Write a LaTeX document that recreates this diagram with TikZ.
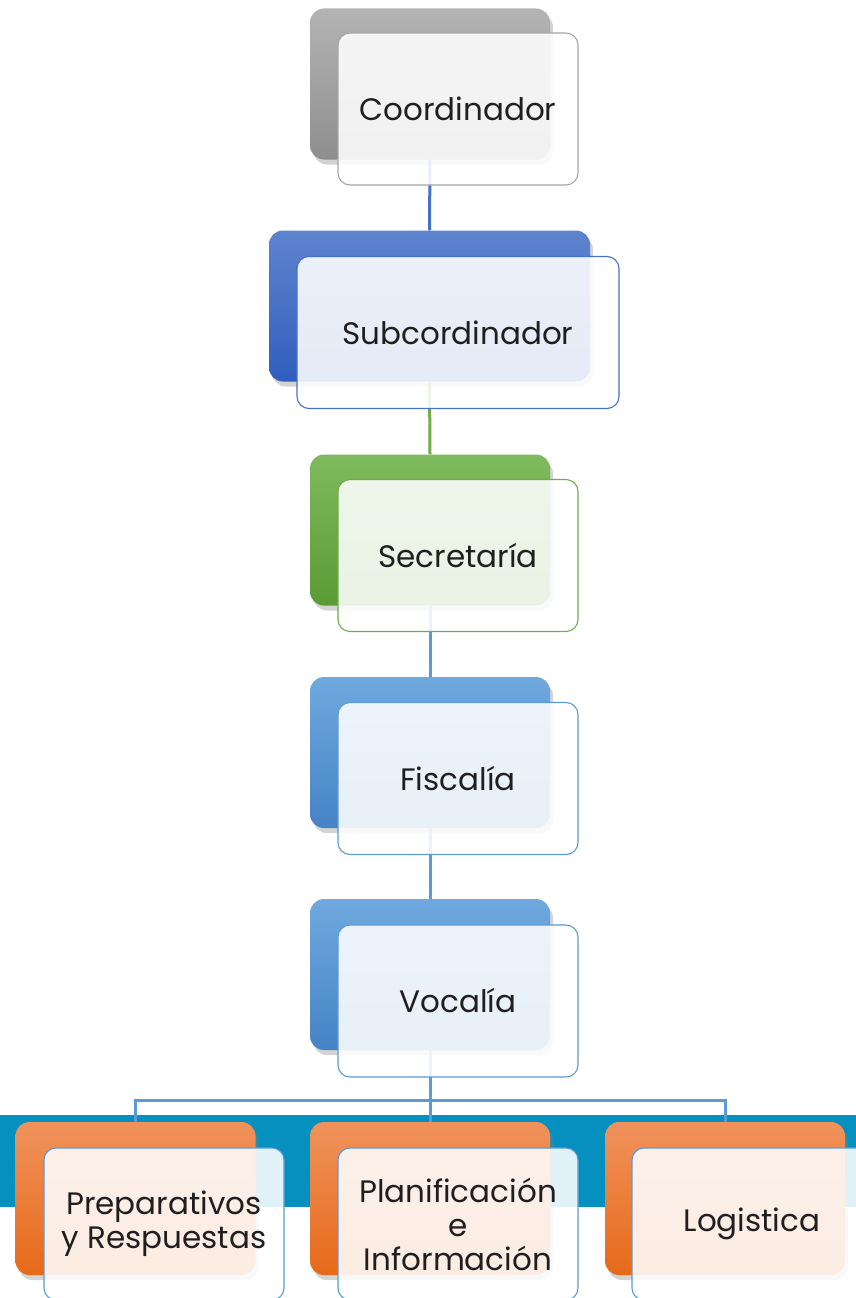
\documentclass[tikz,border=0pt]{standalone}
\usepackage{fontspec}
\setmainfont{Poppins}
\usetikzlibrary{shadows}
\definecolor{grisTop}{HTML}{B4B4B4}
\definecolor{grisBot}{HTML}{8E8E8E}
\definecolor{azulTop}{HTML}{5F84CE}
\definecolor{azulBot}{HTML}{2F5EBD}
\definecolor{verdeTop}{HTML}{80BA5E}
\definecolor{verdeBot}{HTML}{5A9B34}
\definecolor{celesteTop}{HTML}{6FA9DE}
\definecolor{celesteBot}{HTML}{4583C6}
\definecolor{naranjaTop}{HTML}{F0925C}
\definecolor{naranjaBot}{HTML}{E66A19}
\definecolor{borde}{HTML}{A6A6A6}
\definecolor{azul}{HTML}{4472C4}
\definecolor{verde}{HTML}{70AD47}
\definecolor{celeste}{HTML}{5B9BD5}
\definecolor{banda}{HTML}{0590BF}
\definecolor{texto}{HTML}{1F1F1F}

\begin{document}
\begin{tikzpicture}[x=1pt,y=-1pt,
    back/.style={rounded corners=14pt, minimum width=240pt, minimum height=151pt, inner sep=0pt,
      drop shadow={shadow xshift=3pt, shadow yshift=-5pt, opacity=0.35}},
    front/.style={draw, rounded corners=12pt, line width=1.1pt, fill=white, fill opacity=0.88,
      text opacity=1, text=texto, minimum width=240pt, minimum height=152pt, inner sep=2pt,
      align=center, font=\fontsize{31}{34}\selectfont},
    link/.style={line width=3pt}]
    \useasboundingbox (0,0) rectangle (856,1298);
    \clip (0,0) rectangle (856,1298);
    \fill[banda] (0,1115) rectangle (856,1207);

    \node[back, top color=grisTop, bottom color=grisBot] (coordB) at (430,84) {};
    \node[back, top color=azulTop, bottom color=azulBot, minimum width=321pt] (subB) at (429.5,306) {};
    \node[back, top color=verdeTop, bottom color=verdeBot] (secB) at (430,530) {};
    \node[back, top color=celesteTop, bottom color=celesteBot] (fisB) at (430,752.5) {};
    \node[back, top color=celesteTop, bottom color=celesteBot] (vocB) at (430,974.5) {};
    \node[back, top color=naranjaTop, bottom color=naranjaBot, minimum height=153pt] (prepB) at (135.5,1198.5) {};
    \node[back, top color=naranjaTop, bottom color=naranjaBot, minimum height=153pt] (planB) at (430,1198.5) {};
    \node[back, top color=naranjaTop, bottom color=naranjaBot, minimum height=153pt] (logB) at (725,1198.5) {};

    \draw[link, azul] (coordB.south) -- (subB.north);
    \draw[link, verde] (subB.south) -- (secB.north);
    \draw[link, celeste] (secB.south) -- (fisB.north);
    \draw[link, celeste] (fisB.south) -- (vocB.north);
    \draw[link, celeste] (vocB.south) -- ++(0,50) coordinate (split);
    \draw[link, celeste] (split) -| (prepB.north);
    \draw[link, celeste] (split) -| (logB.north);
    \draw[link, celeste] (split) -- (planB.north);

    \node[front, draw=borde] (coord) at (458,109) {Coordinador};
    \node[front, draw=azul, minimum width=322pt] (sub) at (458,332.5) {Subcordinador};
    \node[front, draw=verde] (sec) at (458,555.5) {Secretaría};
    \node[front, draw=celeste] (fis) at (458,778.5) {Fiscalía};
    \node[front, draw=celeste] (voc) at (458,1001) {Vocalía};
    \node[front, draw=celeste] (prep) at (164,1224) {Preparativos\\y Respuestas};
    \node[front, draw=celeste] (plan) at (458,1224) {Planificación\\e\\Información};
    \node[front, draw=celeste] (log) at (752,1224) {Logistica};
\end{tikzpicture}
\end{document}
